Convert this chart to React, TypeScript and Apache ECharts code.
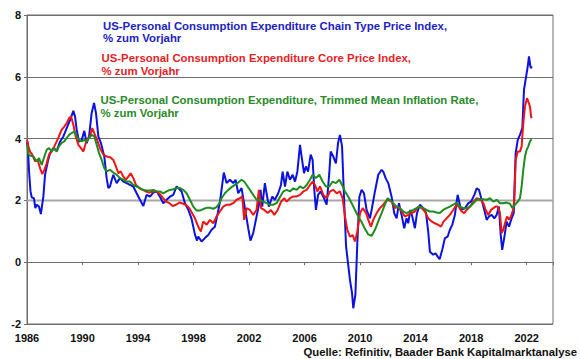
import React, { useEffect, useRef } from "react";
import * as echarts from "echarts";

// [year, % yoy]
const pceChainType: [number, number][] = [
  [1986.0, 3.8], [1986.05, 3.9], [1986.14, 3.0], [1986.25, 2.3], [1986.34, 2.1], [1986.5, 2.07], [1986.6, 1.75], [1986.7, 1.86], [1986.86, 1.8], [1987.0, 1.56],
  [1987.18, 2.13], [1987.3, 2.83], [1987.5, 3.26], [1987.66, 3.53], [1987.9, 3.69], [1988.14, 3.6], [1988.38, 3.9], [1988.62, 4.07], [1988.86, 4.34], [1989.1, 4.6],
  [1989.34, 4.9], [1989.46, 4.72], [1989.58, 4.29], [1989.75, 3.9], [1989.94, 3.95], [1990.13, 4.25], [1990.3, 3.85], [1990.47, 4.07], [1990.66, 4.83], [1990.83, 5.15],
  [1990.97, 4.83], [1991.14, 4.07], [1991.33, 3.85], [1991.57, 3.42], [1991.74, 2.72], [1991.86, 2.4], [1991.98, 2.45], [1992.1, 2.65], [1992.22, 2.83], [1992.46, 2.56],
  [1992.7, 2.72], [1992.94, 2.61], [1993.18, 2.56], [1993.42, 2.5], [1993.66, 2.45], [1993.9, 2.23], [1994.14, 2.02], [1994.38, 1.82], [1994.62, 2.18], [1994.86, 2.12],
  [1995.1, 2.25], [1995.34, 2.29], [1995.58, 2.12], [1995.82, 1.91], [1996.06, 2.02], [1996.3, 2.12], [1996.54, 2.18], [1996.78, 2.45], [1996.9, 2.4], [1997.14, 2.29],
  [1997.38, 1.91], [1997.62, 1.7], [1997.86, 1.4], [1998.1, 0.9], [1998.25, 0.7], [1998.34, 0.83], [1998.58, 0.67], [1998.82, 0.78], [1999.06, 0.88], [1999.3, 1.05],
  [1999.54, 1.15], [1999.75, 1.6], [1999.9, 1.95], [2000.05, 2.45], [2000.18, 2.9], [2000.38, 2.56], [2000.62, 2.67], [2000.86, 2.56], [2001.03, 2.67], [2001.22, 2.23],
  [2001.46, 2.4], [2001.7, 1.75], [2001.94, 1.1], [2002.1, 0.7], [2002.3, 0.94], [2002.54, 1.48], [2002.71, 1.86], [2002.83, 2.34], [2002.95, 1.8], [2003.14, 2.56],
  [2003.26, 2.23], [2003.43, 1.8], [2003.67, 2.12], [2003.86, 2.02], [2004.1, 2.23], [2004.3, 2.5], [2004.42, 2.93], [2004.59, 2.45], [2004.76, 2.93], [2004.95, 2.67],
  [2005.14, 2.83], [2005.31, 2.61], [2005.48, 2.93], [2005.67, 3.8], [2005.82, 3.31], [2005.96, 2.88], [2006.1, 3.1], [2006.25, 2.93], [2006.44, 3.48], [2006.58, 3.31],
  [2006.7, 2.34], [2006.82, 1.69], [2006.97, 2.18], [2007.16, 2.29], [2007.35, 2.12], [2007.59, 1.86], [2007.78, 2.88], [2007.88, 3.58], [2008.07, 3.42], [2008.26, 3.2],
  [2008.41, 3.85], [2008.55, 4.12], [2008.7, 3.75], [2008.84, 2.12], [2008.99, 0.51], [2009.13, -0.03], [2009.27, -0.57], [2009.42, -1.0], [2009.51, -1.49], [2009.66, -1.06],
  [2009.8, 0.61], [2009.95, 2.12], [2010.11, 2.34], [2010.28, 2.23], [2010.47, 1.69], [2010.71, 1.42], [2010.83, 1.69], [2011.07, 2.29], [2011.31, 2.83], [2011.55, 2.99],
  [2011.67, 2.93], [2011.84, 2.72], [2012.03, 2.56], [2012.27, 2.12], [2012.46, 1.59], [2012.63, 1.42], [2012.8, 1.91], [2012.99, 1.53], [2013.18, 1.1], [2013.35, 1.42],
  [2013.47, 1.26], [2013.62, 1.69], [2013.76, 1.48], [2013.95, 1.1], [2014.1, 1.59], [2014.31, 1.86], [2014.55, 1.75], [2014.75, 1.59], [2014.91, 0.99], [2015.03, 0.34],
  [2015.27, 0.24], [2015.44, 0.29], [2015.59, 0.18], [2015.73, 0.1], [2015.92, 0.4], [2016.11, 0.78], [2016.31, 0.83], [2016.47, 1.05], [2016.64, 1.21], [2016.83, 1.53],
  [2017.03, 2.18], [2017.27, 1.69], [2017.56, 1.75], [2017.8, 1.91], [2018.0, 1.96], [2018.23, 2.18], [2018.4, 2.39], [2018.57, 2.34], [2018.76, 2.02], [2018.95, 1.69],
  [2019.12, 1.37], [2019.29, 1.48], [2019.48, 1.53], [2019.67, 1.42], [2019.84, 1.53], [2020.0, 1.8], [2020.13, 0.9], [2020.24, 0.4], [2020.4, 0.83], [2020.56, 1.31],
  [2020.73, 1.15], [2020.92, 1.42], [2021.07, 1.59], [2021.21, 3.53], [2021.36, 3.96], [2021.52, 4.12], [2021.69, 4.34], [2021.81, 5.58], [2021.96, 6.0], [2022.08, 6.34],
  [2022.17, 6.66], [2022.27, 6.34], [2022.32, 6.28], [2022.36, 6.34],
];

const pceCore: [number, number][] = [
  [1986.0, 3.96], [1986.1, 3.75], [1986.22, 3.58], [1986.38, 3.48], [1986.58, 3.26], [1986.77, 3.31], [1986.94, 3.04], [1987.1, 2.85], [1987.25, 2.99], [1987.42, 3.2],
  [1987.58, 3.48], [1987.78, 3.58], [1987.97, 3.75], [1988.14, 3.91], [1988.3, 4.07], [1988.5, 4.29], [1988.69, 4.39], [1988.86, 4.5], [1989.03, 4.66], [1989.17, 4.72],
  [1989.34, 4.45], [1989.51, 4.07], [1989.7, 3.8], [1989.89, 3.69], [1990.06, 3.58], [1990.3, 3.96], [1990.54, 4.07], [1990.7, 4.34], [1990.9, 4.12], [1991.09, 3.91],
  [1991.26, 3.69], [1991.5, 3.48], [1991.74, 3.42], [1991.98, 3.4], [1992.22, 3.31], [1992.41, 3.1], [1992.58, 2.88], [1992.75, 2.94], [1992.94, 2.77], [1993.13, 2.67],
  [1993.3, 2.77], [1993.47, 2.88], [1993.66, 2.72], [1993.85, 2.5], [1994.09, 2.4], [1994.33, 2.34], [1994.57, 2.29], [1994.81, 2.25], [1995.05, 2.29], [1995.29, 2.29],
  [1995.53, 2.23], [1995.77, 2.1], [1996.01, 1.96], [1996.26, 1.91], [1996.5, 1.82], [1996.74, 1.86], [1996.98, 1.93], [1997.22, 1.9], [1997.46, 1.85], [1997.7, 1.75],
  [1997.94, 1.55], [1998.1, 1.42], [1998.34, 1.15], [1998.53, 0.99], [1998.7, 1.32], [1998.94, 1.21], [1999.18, 1.37], [1999.42, 1.26], [1999.66, 1.48], [1999.9, 1.64],
  [2000.14, 1.8], [2000.38, 1.86], [2000.62, 1.86], [2000.86, 1.91], [2001.1, 2.02], [2001.34, 2.07], [2001.51, 2.13], [2001.65, 1.37], [2001.82, 1.75], [2002.06, 1.69],
  [2002.3, 1.53], [2002.54, 1.69], [2002.71, 2.34], [2002.86, 1.75], [2003.1, 1.69], [2003.34, 1.59], [2003.58, 1.69], [2003.82, 1.53], [2004.06, 1.69], [2004.3, 1.95],
  [2004.54, 2.07], [2004.71, 1.96], [2004.95, 2.07], [2005.19, 2.13], [2005.43, 2.13], [2005.67, 2.18], [2005.91, 2.29], [2006.15, 2.34], [2006.39, 2.5], [2006.58, 2.61],
  [2006.75, 2.5], [2006.92, 2.29], [2007.11, 2.45], [2007.35, 2.18], [2007.59, 2.07], [2007.83, 2.29], [2008.07, 2.34], [2008.31, 2.23], [2008.55, 2.29], [2008.74, 2.07],
  [2008.91, 1.48], [2009.08, 1.05], [2009.27, 0.83], [2009.47, 0.88], [2009.63, 0.67], [2009.8, 0.99], [2010.0, 1.59], [2010.19, 1.75], [2010.43, 1.59], [2010.59, 1.37],
  [2010.78, 1.15], [2010.95, 1.37], [2011.19, 1.59], [2011.43, 1.75], [2011.67, 1.86], [2011.84, 1.96], [2012.03, 2.02], [2012.27, 1.96], [2012.51, 1.75], [2012.75, 1.8],
  [2012.99, 1.64], [2013.23, 1.48], [2013.47, 1.53], [2013.71, 1.59], [2013.95, 1.64], [2014.19, 1.8], [2014.43, 1.75], [2014.67, 1.64], [2014.91, 1.42], [2015.15, 1.32],
  [2015.39, 1.26], [2015.63, 1.21], [2015.83, 1.15], [2016.02, 1.32], [2016.23, 1.42], [2016.47, 1.53], [2016.71, 1.69], [2016.95, 1.86], [2017.1, 1.8], [2017.3, 1.65],
  [2017.5, 1.59], [2017.68, 1.69], [2017.92, 1.8], [2018.16, 1.96], [2018.4, 2.07], [2018.64, 2.04], [2018.88, 1.91], [2019.05, 1.69], [2019.24, 1.53], [2019.43, 1.69],
  [2019.6, 1.75], [2019.77, 1.8], [2019.91, 1.8], [2020.08, 1.59], [2020.2, 0.94], [2020.32, 1.05], [2020.44, 1.26], [2020.59, 1.48], [2020.73, 1.37], [2020.87, 1.48],
  [2021.02, 1.69], [2021.11, 2.02], [2021.21, 3.31], [2021.36, 3.58], [2021.52, 3.58], [2021.64, 3.75], [2021.76, 4.5], [2021.88, 5.04], [2022.03, 5.31], [2022.12, 5.2],
  [2022.24, 5.04], [2022.32, 4.72], [2022.36, 4.66],
];

const trimmedMean: [number, number][] = [
  [1986.0, 3.8], [1986.1, 3.5], [1986.22, 3.45], [1986.46, 3.42], [1986.7, 3.26], [1986.86, 3.37], [1987.06, 3.15], [1987.25, 3.42], [1987.42, 3.64], [1987.58, 3.69],
  [1987.78, 3.6], [1987.97, 3.69], [1988.14, 3.58], [1988.3, 3.75], [1988.5, 3.86], [1988.69, 3.91], [1988.86, 4.02], [1989.03, 4.12], [1989.22, 4.18], [1989.41, 4.23],
  [1989.58, 4.07], [1989.75, 3.96], [1989.94, 3.91], [1990.13, 3.96], [1990.3, 3.91], [1990.47, 4.02], [1990.66, 4.12], [1990.85, 4.07], [1991.02, 3.8], [1991.19, 3.53],
  [1991.38, 3.31], [1991.57, 3.04], [1991.74, 2.94], [1991.98, 2.99], [1992.22, 2.9], [1992.46, 2.83], [1992.7, 2.72], [1992.94, 2.67], [1993.18, 2.61], [1993.42, 2.61],
  [1993.66, 2.5], [1993.9, 2.45], [1994.14, 2.4], [1994.38, 2.34], [1994.62, 2.32], [1994.86, 2.32], [1995.1, 2.34], [1995.34, 2.29], [1995.58, 2.29], [1995.82, 2.23],
  [1996.06, 2.29], [1996.3, 2.34], [1996.54, 2.36], [1996.78, 2.4], [1997.02, 2.4], [1997.26, 2.34], [1997.5, 2.23], [1997.74, 2.02], [1997.98, 1.8], [1998.22, 1.67],
  [1998.46, 1.67], [1998.7, 1.72], [1998.94, 1.76], [1999.18, 1.76], [1999.42, 1.73], [1999.66, 1.78], [1999.85, 1.9], [2000.02, 2.07], [2000.26, 2.23], [2000.5, 2.34],
  [2000.74, 2.43], [2000.98, 2.5], [2001.22, 2.58], [2001.46, 2.67], [2001.65, 2.61], [2001.82, 2.5], [2002.06, 2.34], [2002.3, 2.18], [2002.54, 2.02], [2002.78, 2.02],
  [2003.02, 1.96], [2003.26, 1.91], [2003.5, 1.86], [2003.74, 1.86], [2003.98, 1.91], [2004.22, 2.1], [2004.47, 2.29], [2004.71, 2.34], [2004.95, 2.29], [2005.19, 2.39],
  [2005.43, 2.34], [2005.67, 2.45], [2005.91, 2.39], [2006.15, 2.5], [2006.39, 2.67], [2006.58, 2.83], [2006.82, 2.72], [2007.06, 2.83], [2007.3, 2.61], [2007.54, 2.45],
  [2007.78, 2.45], [2008.02, 2.61], [2008.26, 2.56], [2008.5, 2.67], [2008.7, 2.5], [2008.91, 2.29], [2009.15, 2.12], [2009.39, 1.91], [2009.63, 1.69], [2009.87, 1.48],
  [2010.11, 1.3], [2010.35, 1.08], [2010.59, 0.9], [2010.83, 0.85], [2011.07, 1.05], [2011.31, 1.32], [2011.55, 1.59], [2011.79, 1.86], [2011.98, 2.07], [2012.15, 2.02],
  [2012.39, 1.91], [2012.63, 1.8], [2012.87, 1.75], [2013.11, 1.64], [2013.35, 1.59], [2013.59, 1.64], [2013.83, 1.69], [2014.07, 1.75], [2014.31, 1.8], [2014.55, 1.75],
  [2014.79, 1.69], [2015.03, 1.64], [2015.27, 1.64], [2015.51, 1.61], [2015.75, 1.59], [2015.99, 1.69], [2016.23, 1.75], [2016.47, 1.8], [2016.71, 1.86], [2016.95, 1.93],
  [2017.2, 1.8], [2017.44, 1.75], [2017.68, 1.75], [2017.92, 1.8], [2018.16, 1.91], [2018.4, 2.02], [2018.64, 2.02], [2018.88, 2.04], [2019.12, 2.02], [2019.36, 2.07],
  [2019.6, 1.96], [2019.84, 2.02], [2020.08, 1.91], [2020.32, 1.91], [2020.56, 1.93], [2020.8, 1.89], [2020.97, 1.75], [2021.16, 1.86], [2021.36, 1.96], [2021.52, 2.07],
  [2021.64, 2.45], [2021.76, 2.99], [2021.88, 3.42], [2022.0, 3.64], [2022.12, 3.75], [2022.24, 3.91], [2022.36, 3.98],
];

const targetRate = 2;
const xMin = 1986;
const xMax = 2023.9;
const yMin = -2;
const yMax = 8;

const blueTitle = ["US-Personal Consumption Expenditure Chain Type Price Index,", "% zum Vorjahr"];
const redTitle = ["US-Personal Consumption Expenditure Core Price Index,", "% zum Vorjahr"];
const greenTitle = ["US-Personal Consumption Expenditure, Trimmed Mean Inflation Rate,", "% zum Vorjahr"];
const sourceText = "Quelle: Refinitiv, Baader Bank Kapitalmarktanalyse";

const FONT = "'Liberation Sans', Arial, Helvetica, sans-serif";
const BLUE = "#0b12e0";
const RED = "#f01414";
const GREEN = "#1f8c1f";

function titleLines(lines: string[], x: number, baseline: number, color: string) {
  return lines.map((t, i) => ({
    type: "text",
    left: x,
    top: baseline - 10 + i * 12.5,
    style: {
      text: t,
      fill: color,
      font: `bold 11.4px ${FONT}`,
    },
    z: 10,
  }));
}

export default function App() {
  const ref = useRef<HTMLDivElement>(null);
  useEffect(() => {
    if (!ref.current) return;
    const chart = echarts.init(ref.current, undefined, { renderer: "svg" });
    const lineSeries = (name: string, data: [number, number][], color: string) => ({
      name,
      type: "line",
      data,
      showSymbol: false,
      symbol: "none",
      lineStyle: { color, width: 2 },
      itemStyle: { color },
      z: 3,
    });
    chart.setOption({
      animation: false,
      backgroundColor: "#ffffff",
      grid: {
        left: 27,
        right: 27,
        top: 15,
        bottom: 35,
        show: true,
        borderColor: "#6e6e6e",
        borderWidth: 1,
      },
      xAxis: {
        type: "value",
        min: xMin,
        max: xMax,
        interval: 4,
        axisLine: { show: true, lineStyle: { color: "#6e6e6e", width: 1 } },
        axisTick: { show: true, length: 3, lineStyle: { color: "#6e6e6e" } },
        splitLine: { show: false },
        axisLabel: {
          margin: 8,
          color: "#111",
          fontFamily: FONT,
          fontWeight: "bold",
          fontSize: 11,
          formatter: (v: number) => ((Math.round(v) - xMin) % 4 === 0 && Math.abs(v - Math.round(v)) < 1e-6 ? String(Math.round(v)) : ""),
        },
      },
      yAxis: {
        type: "value",
        min: yMin,
        max: yMax,
        interval: 2,
        axisLine: { show: true, lineStyle: { color: "#6e6e6e", width: 1 } },
        axisTick: { show: true, length: 3, lineStyle: { color: "#6e6e6e" } },
        splitLine: { show: true, lineStyle: { color: "#6e6e6e", width: 1 } },
        axisLabel: {
          margin: 6,
          color: "#111",
          fontFamily: FONT,
          fontWeight: "bold",
          fontSize: 11,
        },
      },
      series: [
        {
          name: "target",
          type: "line",
          data: [[xMin, targetRate], [xMax, targetRate]],
          showSymbol: false,
          symbol: "none",
          lineStyle: { color: "#a8a8a8", width: 2 },
          z: 1,
          silent: true,
        },
        lineSeries("PCE", pceChainType, BLUE),
        lineSeries("Core PCE", pceCore, RED),
        lineSeries("Trimmed Mean", trimmedMean, GREEN),
      ],
      graphic: [
        ...titleLines(blueTitle, 103, 30, "#1d1dc4"),
        ...titleLines(redTitle, 101.5, 62.5, "#e61e28"),
        ...titleLines(greenTitle, 100.5, 104.5, "#2a8a2a"),
        {
          type: "text",
          right: 3,
          top: 346,
          style: { text: sourceText, fill: "#111", font: `bold 11.3px ${FONT}` },
          z: 10,
        },
      ],
    });
    return () => chart.dispose();
  }, []);
  return (
    <div
      ref={ref}
      style={{ position: "fixed", left: 0, top: 0, width: 580, height: 359, background: "#fff" }}
    />
  );
}
